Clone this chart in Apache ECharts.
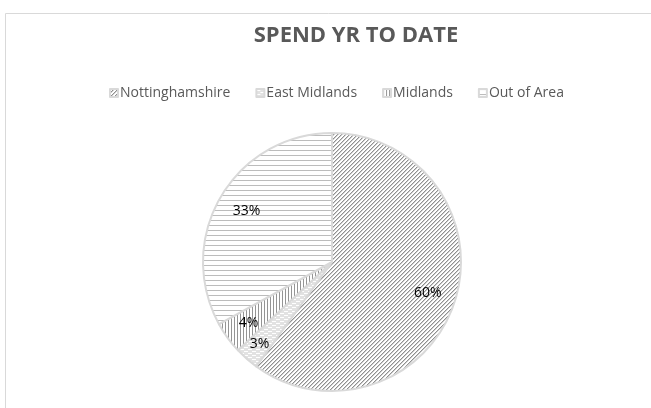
<!DOCTYPE html>
<html>
<head>
<meta charset="utf-8">
<script src="https://cdn.jsdelivr.net/npm/echarts@6/dist/echarts.min.js"></script>
<style>
  html, body { margin: 0; padding: 0; background: #fff; }
  #main { width: 651px; height: 408px; }
</style>
</head>
<body>
<div id="main"></div>
<script>
const titleText = 'SPEND YR TO DATE'
const regions = ['Nottinghamshire', 'East Midlands', 'Midlands', 'Out of Area']
const spend = [60, 3, 4, 33]

// how far out (fraction of radius) each data label sits
const labelRadius = [0.78, 0.85, 0.8, 0.77]

function tile(w, h, bg, draw) {
  const c = document.createElement('canvas')
  c.width = w
  c.height = h
  const ctx = c.getContext('2d')
  ctx.fillStyle = bg
  ctx.fillRect(0, 0, w, h)
  draw(ctx)
  return { image: c, repeat: 'repeat' }
}

const patterns = [
  // wide upward diagonal
  tile(4, 4, '#ffffff', function (ctx) {
    ctx.fillStyle = '#8f8f8f'
    ctx.fillRect(3, 0, 1, 1); ctx.fillRect(2, 1, 1, 1)
    ctx.fillRect(1, 2, 1, 1); ctx.fillRect(0, 3, 1, 1)
    ctx.fillStyle = '#cfcfcf'
    ctx.fillRect(0, 0, 1, 1); ctx.fillRect(3, 1, 1, 1)
    ctx.fillRect(2, 2, 1, 1); ctx.fillRect(1, 3, 1, 1)
  }),
  // dashed horizontal, pale
  tile(8, 4, '#e2e2e2', function (ctx) {
    ctx.fillStyle = '#ffffff'
    ctx.fillRect(0, 1, 4, 1); ctx.fillRect(4, 3, 4, 1)
  }),
  // vertical lines
  tile(3, 3, '#ffffff', function (ctx) {
    ctx.fillStyle = '#959595'
    ctx.fillRect(0, 0, 1, 3)
  }),
  // horizontal lines
  tile(5, 5, '#ffffff', function (ctx) {
    ctx.fillStyle = '#bcbcbc'
    ctx.fillRect(0, 0, 5, 1)
  })
]

const myChart = echarts.init(document.getElementById('main'))
const cx = 332, cy = 262, r = 129
const total = spend.reduce((a, b) => a + b, 0)

const option = {
  animation: false,
  graphic: [{
    type: 'rect',
    shape: { x: 5.5, y: 13.5, width: 700, height: 500 },
    style: { fill: 'none', stroke: '#d9d9d9', lineWidth: 1 },
    silent: true
  }],
  title: {
    text: titleText,
    left: 351,
    textAlign: 'center',
    top: 20,
    textStyle: {
      fontFamily: 'Open Sans',
      fontWeight: 'bold',
      fontSize: 22,
      color: '#595959'
    }
  },
  legend: {
    data: regions,
    left: 104,
    top: 81,
    icon: 'rect',
    itemWidth: 8,
    itemHeight: 8,
    itemGap: 25,
    textStyle: {
      fontFamily: 'Open Sans',
      fontSize: 14,
      color: '#595959',
      padding: [0, 0, 0, -3]
    }
  },
  series: [{
    type: 'pie',
    center: [cx, cy],
    radius: r,
    startAngle: 90,
    clockwise: true,
    avoidLabelOverlap: false,
    label: {
      show: true,
      position: 'inside',
      fontFamily: 'Open Sans',
      fontSize: 14,
      color: '#000',
      formatter: function (p) { return Math.round(p.percent) + '%' }
    },
    labelLine: { show: false },
    labelLayout: function (params) {
      const i = params.dataIndex
      let before = 0
      for (let k = 0; k < i; k++) before += spend[k]
      const mid = (before + spend[i] / 2) / total * Math.PI * 2
      const d = labelRadius[i] * r
      return { x: cx + d * Math.sin(mid), y: cy - d * Math.cos(mid) }
    },
    emphasis: { disabled: true },
    itemStyle: { borderColor: '#d9d9d9', borderWidth: 2 },
    data: regions.map((name, i) => ({
      name: name,
      value: spend[i],
      itemStyle: { color: patterns[i] }
    }))
  }]
}
myChart.setOption(option)
</script>
</body>
</html>
